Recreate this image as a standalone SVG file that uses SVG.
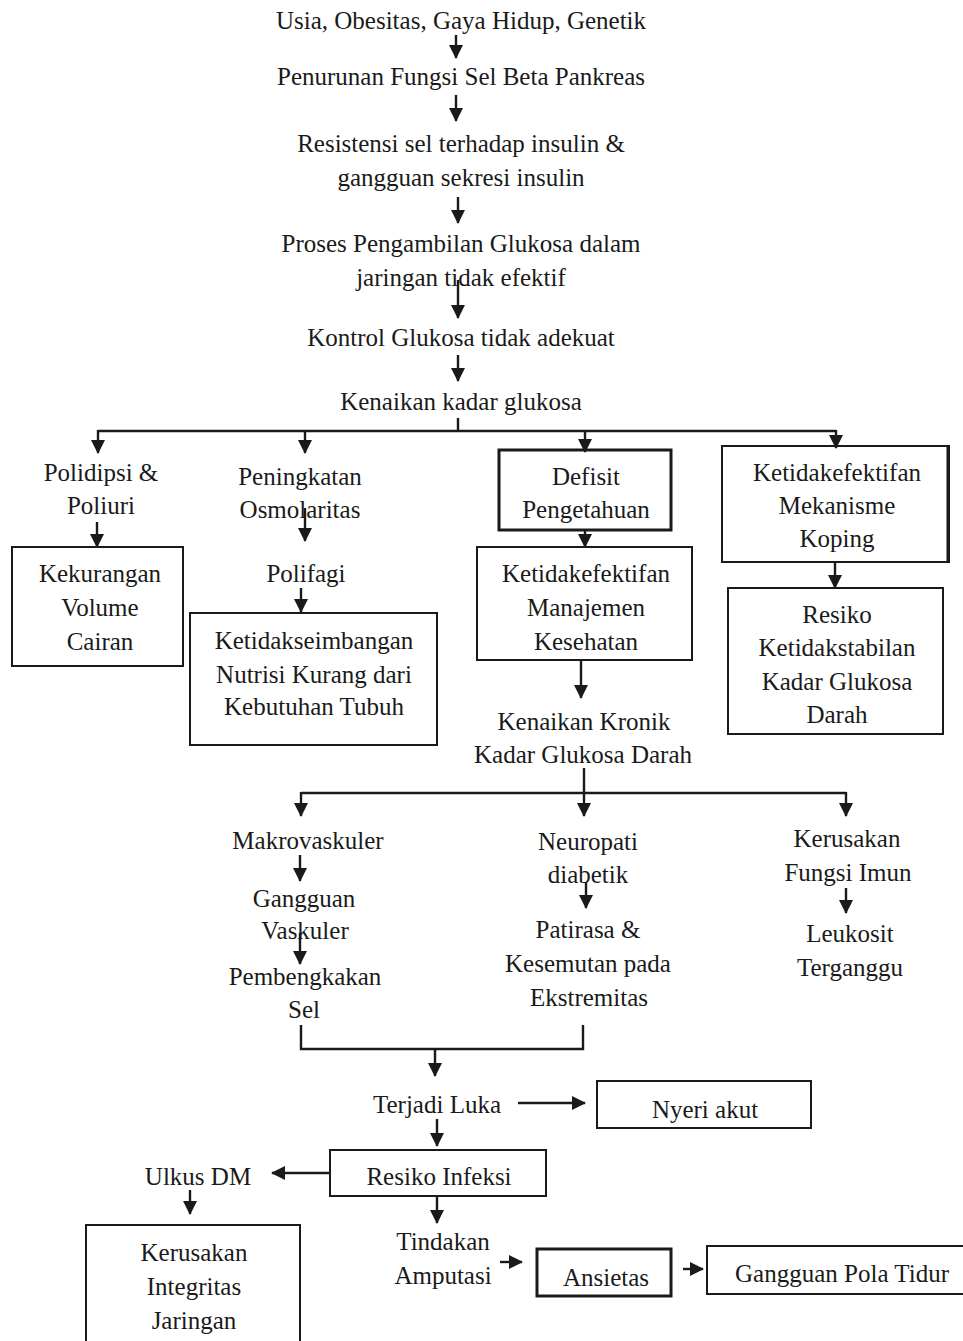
<svg xmlns="http://www.w3.org/2000/svg" width="963" height="1341" viewBox="0 0 963 1341">
<style>
text{font-family:"Liberation Serif","Times New Roman",serif;font-size:25px;fill:#1a1a1a;text-anchor:middle}
.box{fill:none;stroke:#1a1a1a;stroke-width:2}
.thick{stroke-width:3}
.c line,.c polyline{stroke:#1a1a1a;stroke-width:2.4;fill:none}
.a{marker-end:url(#ah)}
</style>
<defs>
<marker id="ah" markerUnits="userSpaceOnUse" markerWidth="15" markerHeight="15" refX="13" refY="7.5" orient="auto" viewBox="0 0 15 15">
<path d="M0,0.5 L14,7.5 L0,14.5 z" fill="#1a1a1a"/>
</marker>
</defs>
<rect width="963" height="1341" fill="#fff"/>
<g id="n1"><text x="461" y="29">Usia, Obesitas, Gaya Hidup, Genetik</text></g>
<g id="n2"><text x="461" y="85">Penurunan Fungsi Sel Beta Pankreas</text></g>
<g id="n3"><text x="461" y="152">Resistensi sel terhadap insulin &amp;</text><text x="461" y="186">gangguan sekresi insulin</text></g>
<g id="n4"><text x="461" y="252">Proses Pengambilan Glukosa dalam</text><text x="461" y="286">jaringan tidak efektif</text></g>
<g id="n5"><text x="461" y="346">Kontrol Glukosa tidak adekuat</text></g>
<g id="n6"><text x="461" y="410">Kenaikan kadar glukosa</text></g>
<g id="n7"><text x="101" y="481">Polidipsi &amp;</text><text x="101" y="514">Poliuri</text></g>
<g id="n8"><rect class="box" x="12" y="547" width="171" height="119"/><text x="100" y="582">Kekurangan</text><text x="100" y="616">Volume</text><text x="100" y="650">Cairan</text></g>
<g id="n9"><text x="300" y="485">Peningkatan</text><text x="300" y="518">Osmolaritas</text></g>
<g id="n10"><text x="306" y="582">Polifagi</text></g>
<g id="n11"><rect class="box" x="190" y="613" width="247" height="132"/><text x="314" y="649">Ketidakseimbangan</text><text x="314" y="683">Nutrisi Kurang dari</text><text x="314" y="715">Kebutuhan Tubuh</text></g>
<g id="n12"><rect class="box thick" x="499" y="450" width="172" height="80"/><text x="586" y="485">Defisit</text><text x="586" y="518">Pengetahuan</text></g>
<g id="n13"><rect class="box" x="477" y="547" width="215" height="113"/><text x="586" y="582">Ketidakefektifan</text><text x="586" y="616">Manajemen</text><text x="586" y="650">Kesehatan</text></g>
<g id="n14"><text x="584" y="730">Kenaikan Kronik</text><text x="583" y="763">Kadar Glukosa Darah</text></g>
<g id="n15"><rect class="box" x="722" y="446" width="227" height="116"/><line x1="948" y1="446" x2="948" y2="562" stroke="#1a1a1a" stroke-width="3"/><text x="837" y="481">Ketidakefektifan</text><text x="837" y="514">Mekanisme</text><text x="837" y="547">Koping</text></g>
<g id="n16"><rect class="box" x="728" y="588" width="215" height="146"/><text x="837" y="623">Resiko</text><text x="837" y="656">Ketidakstabilan</text><text x="837" y="690">Kadar Glukosa</text><text x="837" y="723">Darah</text></g>
<g id="n17"><text x="308" y="849">Makrovaskuler</text></g>
<g id="n18"><text x="304" y="907">Gangguan</text><text x="305" y="939">Vaskuler</text></g>
<g id="n19"><text x="305" y="985">Pembengkakan</text><text x="304" y="1018">Sel</text></g>
<g id="n20"><text x="588" y="850">Neuropati</text><text x="588" y="883">diabetik</text></g>
<g id="n21"><text x="588" y="938">Patirasa &amp;</text><text x="588" y="972">Kesemutan pada</text><text x="589" y="1006">Ekstremitas</text></g>
<g id="n22"><text x="847" y="847">Kerusakan</text><text x="848" y="881">Fungsi Imun</text></g>
<g id="n23"><text x="850" y="942">Leukosit</text><text x="850" y="976">Terganggu</text></g>
<g id="n24"><text x="437" y="1113">Terjadi Luka</text></g>
<g id="n25"><rect class="box" x="597" y="1081" width="214" height="47"/><text x="705" y="1118">Nyeri akut</text></g>
<g id="n26"><rect class="box" x="330" y="1150" width="216" height="46"/><text x="439" y="1185">Resiko Infeksi</text></g>
<g id="n27"><text x="198" y="1185">Ulkus DM</text></g>
<g id="n28"><rect class="box" x="86" y="1225" width="214" height="125"/><text x="194" y="1261">Kerusakan</text><text x="194" y="1295">Integritas</text><text x="194" y="1329">Jaringan</text></g>
<g id="n29"><text x="443" y="1250">Tindakan</text><text x="443" y="1284">Amputasi</text></g>
<g id="n30"><rect class="box thick" x="537" y="1249" width="134" height="47"/><text x="606" y="1286">Ansietas</text></g>
<g id="n31"><rect class="box" x="707" y="1246" width="262" height="48"/><text x="842" y="1282">Gangguan Pola Tidur</text></g>
<g id="connectors" class="c">
<line class="a" x1="456" y1="35" x2="456" y2="58"/>
<line class="a" x1="456" y1="95" x2="456" y2="121"/>
<line class="a" x1="458" y1="197" x2="458" y2="223"/>
<line class="a" x1="458" y1="280" x2="458" y2="318"/>
<line class="a" x1="458" y1="355" x2="458" y2="381"/>
<line x1="458" y1="418" x2="458" y2="431"/>
<line x1="98" y1="431" x2="836" y2="431"/>
<line class="a" x1="98" y1="430" x2="98" y2="453"/>
<line class="a" x1="305" y1="430" x2="305" y2="453"/>
<line class="a" x1="585" y1="430" x2="585" y2="452"/>
<line class="a" x1="836" y1="430" x2="836" y2="448"/>
<line class="a" x1="97" y1="522" x2="97" y2="547"/>
<line class="a" x1="305" y1="508" x2="305" y2="541"/>
<line class="a" x1="301" y1="588" x2="301" y2="612"/>
<line class="a" x1="585" y1="530" x2="585" y2="547"/>
<line class="a" x1="581" y1="660" x2="581" y2="698"/>
<line class="a" x1="835" y1="562" x2="835" y2="588"/>
<line x1="584" y1="768" x2="584" y2="793"/>
<line x1="301" y1="793" x2="846" y2="793"/>
<line class="a" x1="301" y1="792" x2="301" y2="816"/>
<line class="a" x1="584" y1="792" x2="584" y2="816"/>
<line class="a" x1="846" y1="792" x2="846" y2="816"/>
<line class="a" x1="300" y1="855" x2="300" y2="881"/>
<line class="a" x1="300" y1="933" x2="300" y2="964"/>
<line class="a" x1="586" y1="882" x2="586" y2="908"/>
<line class="a" x1="846" y1="888" x2="846" y2="913"/>
<polyline points="301,1025 301,1049 583,1049 583,1025"/>
<line class="a" x1="435" y1="1049" x2="435" y2="1076"/>
<line class="a" x1="518" y1="1103" x2="585" y2="1103"/>
<line class="a" x1="437" y1="1119" x2="437" y2="1146"/>
<line class="a" x1="330" y1="1173" x2="272" y2="1173"/>
<line class="a" x1="190" y1="1190" x2="190" y2="1214"/>
<line class="a" x1="437" y1="1196" x2="437" y2="1223"/>
<line class="a" x1="500" y1="1262" x2="522" y2="1262"/>
<line class="a" x1="683" y1="1269" x2="703" y2="1269"/>
</g>
</svg>
